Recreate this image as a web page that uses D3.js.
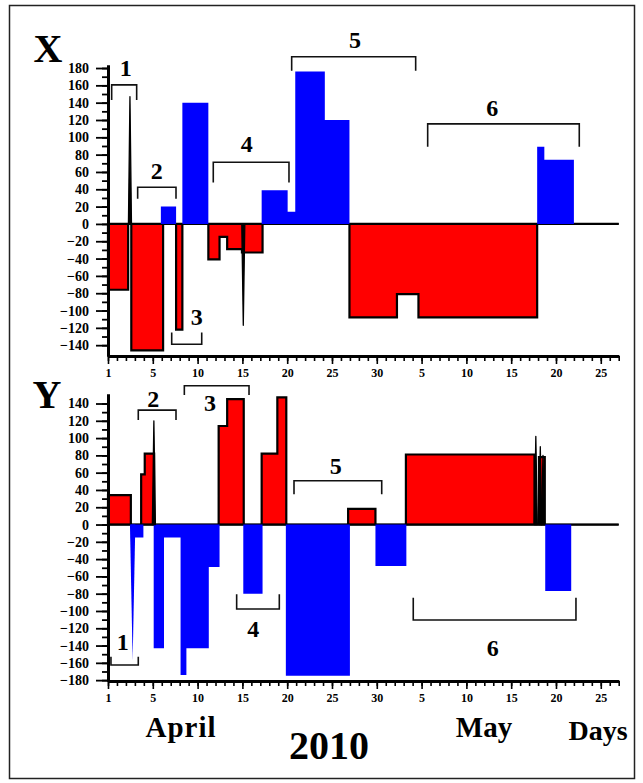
<!DOCTYPE html>
<html><head><meta charset="utf-8">
<script src="https://cdn.jsdelivr.net/npm/d3@7"></script>
<style>
html,body{margin:0;padding:0;background:#fff;}
svg{display:block;font-family:"Liberation Serif","Times New Roman",serif;font-weight:bold;}
</style></head><body>
<svg id="chart" width="643" height="783"></svg>
<script>
// ---------------- data ----------------
// day index: April d -> d, May d -> 30 + d
const dayTicks = [0, 5, 10, 15, 20, 25, 30, 35, 40, 45, 50, 55];
const dayTickLabels = ["1", "5", "10", "15", "20", "25", "30", "5", "10", "15", "20", "25"];
const xPanelTicks = [-140, -120, -100, -80, -60, -40, -20, 0, 20, 40, 60, 80, 100, 120, 140, 160, 180];
const yPanelTicks = [-180, -160, -140, -120, -100, -80, -60, -40, -20, 0, 20, 40, 60, 80, 100, 120, 140];

// X component (step series, value holds until next day)
const xRedDays  = [0, 2.25, 2.6, 6.15, 7.6, 8.3, 11.2, 12.45, 13.3, 14.95, 17.25, 26.95, 32.25, 34.65, 47.9, 57];
const xRedVals  = [-76, 0, -146, 0, -122, 0, -41, -15, -29, -33, 0, -108, -81, -108, 0, 0];
const xBlueDays = [0, 5.9, 7.6, 8.3, 11.2, 17.15, 20.05, 20.9, 24.2, 26.95, 47.9, 48.7, 52, 57];
const xBlueVals = [0, 20, 0, 140, 0, 39, 14, 176, 120, 0, 89, 74, 0, 0];
const xSpikeDays = [2.45, 15.1];
const xSpikeVals = [147, -117];

// Y component
const yRedDays  = [0, 2.55, 3.7, 4.1, 5.15, 12.35, 13.3, 15.15, 17.15, 18.9, 19.9, 26.8, 29.85, 33.25, 47.6, 48.1, 48.75, 57];
const yRedVals  = [34, 0, 58, 82, 0, 114, 145, 0, 82, 147, 0, 18, 0, 81, 0, 78, 0, 0];
const yBlueDays = [0, 2.55, 3.95, 5.1, 6.25, 8.1, 8.75, 11.25, 12.45, 15.1, 17.25, 19.85, 27.0, 29.85, 33.3, 48.8, 51.7, 57];
const yBlueVals = [0, -15, 0, -143, -15, -174, -143, -49, 0, -80, 0, -175, 0, -48, 0, -77, 0, 0];
const ySpikeDays = [5.12, 47.75, 48.25, 48.55];
const ySpikeVals = [120, 102, 90, 80];
const yBlueSpikeDays = [2.75];
const yBlueSpikeVals = [-157];

// period brackets (data coordinates)
const xBrLabels = ["1", "2", "3", "4", "5", "6"];
const xBrFrom   = [0.41, 3.31, 7.11, 11.75, 20.5, 35.68];
const xBrTo     = [3.2, 7.59, 10.46, 20.2, 34.34, 52.6];
const xBrBar    = [160.5, 42.4, -139, 71.2, 193, 115.5];
const xBrLeg    = [143, 29, -125.5, 47.7, 177, 89];
const xBrLblDay = [1.98, 5.43, 9.9, 15.48, 27.57, 42.9];
const xBrLblVal = [180, 62, -107, 92.4, 212.5, 134];

const yBrLabels = ["1", "2", "3", "4", "5", "6"];
const yBrFrom   = [0.33, 3.38, 8.52, 14.36, 20.76, 34.07];
const yBrTo     = [3.38, 7.59, 15.74, 19.12, 30.55, 52.23];
const yBrBar    = [-162.5, 132.4, 160.5, -97.7, 50.7, -110.5];
const yBrLeg    = [-153, 121, 149.8, -80.7, 35, -84.7];
const yBrLblDay = [1.64, 5.06, 11.38, 16.2, 25.41, 42.93];
const yBrLblVal = [-136, 146, 141.4, -120, 67.7, -142];

// ---------------- drawing ----------------
const svg = d3.select("#chart");
const RED = "#ff0000", BLUE = "#0000ff";

svg.append("rect").attr("x", 9.5).attr("y", 5.5).attr("width", 625).attr("height", 773)
  .attr("fill", "none").attr("stroke", "#222").attr("stroke-width", 1.5);

const x = d3.scaleLinear().domain([0, 57]).range([108, 618.7]);

function zipSeries(days, vals) { return days.map((d, i) => ({ day: d, v: vals[i] })); }

function panel(cfg) {
  const y = d3.scaleLinear().domain(cfg.domain).range(cfg.range);
  const g = svg.append("g");
  const area = d3.area().curve(d3.curveStepAfter)
    .x(d => x(d.day)).y0(y(0)).y1(d => y(d.v));

  // outlined red series
  g.append("path").datum(zipSeries(cfg.redDays, cfg.redVals))
    .attr("d", area).attr("fill", RED).attr("stroke", "#000")
    .attr("stroke-width", 2.2).attr("stroke-linejoin", "miter");

  // zero line
  g.append("line").attr("x1", x(0)).attr("x2", x(57)).attr("y1", y(0)).attr("y2", y(0))
    .attr("stroke", "#000").attr("stroke-width", 1.6);

  // blue series
  g.append("path").datum(zipSeries(cfg.blueDays, cfg.blueVals))
    .attr("d", area).attr("fill", BLUE).attr("stroke", "none");

  // spikes
  const spike = (d, w) => `M${x(d.day - w)},${y(0)}L${x(d.day)},${y(d.v)}L${x(d.day + w)},${y(0)}Z`;
  g.selectAll(".bsp").data(zipSeries(cfg.blueSpikeDays, cfg.blueSpikeVals)).join("path")
    .attr("d", d => spike(d, 0.3)).attr("fill", BLUE);
  g.selectAll(".ksp").data(zipSeries(cfg.spikeDays, cfg.spikeVals)).join("path")
    .attr("d", d => spike(d, 0.17)).attr("fill", "#000").attr("stroke", "#000")
    .attr("stroke-width", 1.3).attr("stroke-linejoin", "round");

  // left axis
  const minorY = d3.range(cfg.ticks[0], cfg.ticks[cfg.ticks.length - 1] + 1, 10);
  const ax = g.append("g").attr("transform", `translate(${x(0)},0)`);
  ax.append("g").call(d3.axisLeft(y).tickValues(minorY).tickSize(6).tickSizeOuter(0).tickFormat(""));
  ax.append("g").call(d3.axisLeft(y).tickValues(cfg.ticks).tickSize(12).tickPadding(7).tickSizeOuter(0));
  ax.selectAll(".domain").attr("stroke-width", 3);
  ax.selectAll(".tick line").attr("stroke-width", 1.8);
  ax.selectAll("text").attr("font-size", 14).attr("font-family", "Liberation Serif").attr("font-weight", "bold").attr("fill", "#000");

  // bottom axis
  const bx = g.append("g").attr("transform", `translate(0,${y.range()[0]})`);
  bx.append("g").call(d3.axisBottom(x).tickValues(d3.range(0, 58, 1)).tickSize(5).tickSizeOuter(0).tickFormat(""));
  bx.append("g").call(d3.axisBottom(x).tickValues(dayTicks).tickSize(8).tickPadding(4).tickSizeOuter(0)
    .tickFormat((d, i) => dayTickLabels[i]));
  bx.selectAll(".domain").attr("stroke-width", 3);
  bx.selectAll(".tick line").attr("stroke-width", 1.6);
  bx.selectAll("text").attr("font-size", 12).attr("font-family", "Liberation Serif").attr("font-weight", "bold").attr("fill", "#000");

  // brackets
  cfg.brLabels.forEach((lab, i) => {
    g.append("path")
      .attr("d", `M${x(cfg.brFrom[i])},${y(cfg.brLeg[i])}V${y(cfg.brBar[i])}H${x(cfg.brTo[i])}V${y(cfg.brLeg[i])}`)
      .attr("fill", "none").attr("stroke", "#111").attr("stroke-width", 1.6);
    g.append("text").attr("x", x(cfg.brLblDay[i])).attr("y", y(cfg.brLblVal[i])).attr("dy", "0.35em")
      .attr("text-anchor", "middle").attr("font-size", 24).text(lab);
  });

  // panel letter
  svg.append("text").attr("x", cfg.letterX).attr("y", cfg.letterY).attr("text-anchor", "middle")
    .attr("font-size", 40).text(cfg.letter);
}

panel({
  domain: [-152.5, 183.5], range: [356, 65], ticks: xPanelTicks,
  redDays: xRedDays, redVals: xRedVals, blueDays: xBlueDays, blueVals: xBlueVals,
  spikeDays: xSpikeDays, spikeVals: xSpikeVals, blueSpikeDays: [], blueSpikeVals: [],
  brLabels: xBrLabels, brFrom: xBrFrom, brTo: xBrTo, brBar: xBrBar, brLeg: xBrLeg,
  brLblDay: xBrLblDay, brLblVal: xBrLblVal, letter: "X", letterX: 48, letterY: 62
});

panel({
  domain: [-181, 151], range: [681, 394], ticks: yPanelTicks,
  redDays: yRedDays, redVals: yRedVals, blueDays: yBlueDays, blueVals: yBlueVals,
  spikeDays: ySpikeDays, spikeVals: ySpikeVals, blueSpikeDays: yBlueSpikeDays, blueSpikeVals: yBlueSpikeVals,
  brLabels: yBrLabels, brFrom: yBrFrom, brTo: yBrTo, brBar: yBrBar, brLeg: yBrLeg,
  brLblDay: yBrLblDay, brLblVal: yBrLblVal, letter: "Y", letterX: 47, letterY: 408
});

// bottom labels
const footer = [
  { t: "April", x: 181, y: 737, s: 29 },
  { t: "2010", x: 329, y: 759, s: 40 },
  { t: "May", x: 484, y: 737, s: 29 },
  { t: "Days", x: 598, y: 740, s: 28 }
];
svg.selectAll(".foot").data(footer).join("text")
  .attr("x", d => d.x).attr("y", d => d.y).attr("text-anchor", "middle")
  .attr("font-size", d => d.s).attr("letter-spacing", (d, i) => i === 0 ? 1 : 0).text(d => d.t);
</script>
</body></html>
